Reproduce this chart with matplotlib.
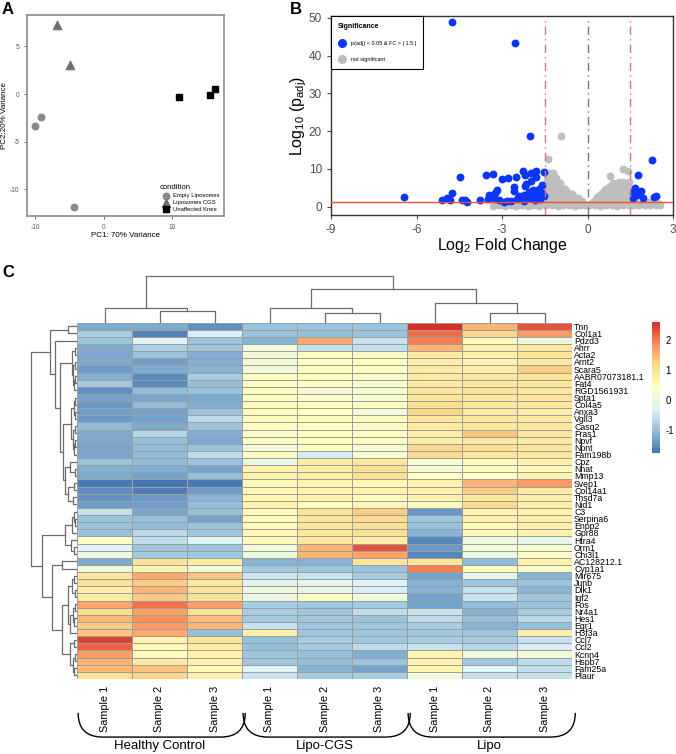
import numpy as np
import matplotlib
matplotlib.use("Agg")
import matplotlib.pyplot as plt
from matplotlib.colors import LinearSegmentedColormap
from matplotlib.lines import Line2D
from matplotlib.patches import PathPatch
from matplotlib.path import Path

plt.rcParams['font.family'] = ['Liberation Sans', 'DejaVu Sans']
plt.rcParams['mathtext.default'] = 'regular'
plt.rcParams['axes.unicode_minus'] = False

# ---------------- data: PCA (panel A) ----------------
empty_x = [-10.05, -9.1, -4.4]
empty_y = [-3.35, -2.4, -11.9]
cgs_x = [-6.75, -4.85]
cgs_y = [7.25, 3.1]
knee_x = [11.0, 15.5, 16.3]
knee_y = [-0.3, -0.1, 0.55]

# ---------------- data: volcano (panel B) ----------------
blue_x = [-4.75, -2.56, -2.01, -6.45, -4.47, -3.56, -3.30, -3.0, -2.79, -2.52,
          -2.27, -2.2, -1.97, -1.80, -1.54, -1.80, -1.97, -2.15, -2.59, -2.59,
          -3.18, -3.26, -3.46, -3.5, -3.29, -3.12, -2.94, -2.82, -3.76, -4.29,
          -4.24, -4.39, -4.74, -4.93, -4.81, -5.1, -2.39, -2.22, -2.06, -1.91,
          -1.71, -1.6, -1.58, -1.54, -1.65, -1.83, -2.03, -2.24, -2.47, -2.7,
          -1.87, -1.76, -2.18,
          2.25, 1.76, 1.65, 1.64, 1.88, 1.74, 1.58, 1.95, 2.32, 2.42, 1.58]
blue_y = [48.8, 43.4, 18.75, 2.5, 7.8, 8.4, 8.6, 7.4, 7.5, 7.9,
          9.4, 8.4, 8.9, 9.4, 9.3, 7.8, 6.7, 6.0, 5.3, 4.1,
          4.4, 3.7, 3.2, 2.05, 2.4, 1.9, 1.3, 1.5, 1.9, 1.9,
          1.25, 1.8, 3.5, 2.4, 1.7, 1.8, 2.8, 3.1, 3.8, 4.5,
          4.6, 5.7, 3.6, 2.8, 2.05, 1.9, 2.2, 1.5, 2.05, 1.5,
          3.2, 2.8, 5.4,
          12.3, 8.5, 5.0, 4.2, 4.2, 3.2, 2.4, 2.2, 2.5, 2.8, 3.7]

gray_x = [-1.45, -1.25, -1.05, -0.85, -0.65, -0.45, -0.25, -0.08,
          -1.35, -1.15, -0.95, -0.75, -0.55, -0.35, -0.15,
          -1.4, -1.2, -1.0, -0.8, -0.6, -0.4, -0.2,
          -1.35, -1.15, -0.95, -0.75, -0.55, -0.38,
          -1.45, -1.28, -1.1, -0.9, -0.7, -0.5, -0.32,
          -1.35, -1.18, -1.0, -0.82, -0.62,
          -1.42, -1.25, -1.08, -0.9, -0.72, -0.55,
          -1.38, -1.2, -1.02, -0.86,
          -1.45, -1.3, -1.12, -0.95, -0.8,
          -1.38, -1.2, -1.05,
          -1.42, -1.27, -1.1, -0.98,
          -1.35, -1.18,
          -1.4, -1.25, -1.12,
          -1.3, -1.2,
          0.05, 0.25, 0.45, 0.65, 0.85, 1.05, 1.25, 1.45,
          0.15, 0.35, 0.55, 0.75, 0.95, 1.15, 1.35, 1.5,
          0.2, 0.4, 0.6, 0.8, 1.0, 1.2, 1.4,
          0.3, 0.5, 0.7, 0.9, 1.1, 1.3, 1.48,
          0.35, 0.55, 0.75, 0.95, 1.15, 1.35,
          0.45, 0.65, 0.85, 1.05, 1.25, 1.45,
          0.5, 0.7, 0.9, 1.1, 1.3, 1.45,
          0.6, 0.8, 1.0, 1.2, 1.4,
          0.65, 0.85, 1.05, 1.25, 1.42,
          0.8, 1.0, 1.2, 1.38,
          0.9, 1.1, 1.25,
          -0.93, -1.39, 0.8, 1.25, 1.43, 1.45,
          -3.3, -3.1, -2.9, -2.7, -2.5, -2.3, -2.1, -1.9, -1.7,
          -3.2, -3.0, -2.8, -2.6, -2.4, -2.2, -2.0, -1.8, -1.6,
          -2.9, -2.5, -2.1, -1.75,
          1.6, 1.8, 2.0, 2.2, 2.4, 2.55,
          1.7, 1.9, 2.1, 2.3, 2.5,
          1.65, 1.9, 2.15, 2.4, 1.55]
gray_y = [0.4, 0.5, 0.3, 0.4, 0.5, 0.3, 0.4, 0.5,
          1.0, 1.1, 0.9, 1.0, 1.0, 0.9, 0.8,
          1.6, 1.7, 1.5, 1.6, 1.6, 1.5, 1.4,
          2.2, 2.3, 2.2, 2.1, 2.2, 2.0,
          2.9, 3.0, 2.8, 2.9, 3.0, 2.8, 2.4,
          3.6, 3.7, 3.5, 3.6, 3.4,
          4.2, 4.3, 4.1, 4.2, 4.0, 3.4,
          4.9, 5.0, 4.8, 4.6,
          5.5, 5.6, 5.4, 5.3, 4.8,
          6.1, 6.2, 6.0,
          6.8, 6.9, 6.7, 6.3,
          7.4, 7.5,
          8.0, 8.1, 7.6,
          9.0, 8.8,
          0.4, 0.5, 0.3, 0.4, 0.5, 0.3, 0.4, 0.5,
          1.0, 0.9, 1.1, 1.0, 0.9, 1.1, 1.0, 0.9,
          1.3, 1.6, 1.7, 1.5, 1.6, 1.7, 1.5,
          2.0, 2.2, 2.3, 2.2, 2.1, 2.3, 2.2,
          2.5, 2.8, 3.0, 2.9, 2.8, 3.0,
          3.1, 3.4, 3.5, 3.4, 3.5, 3.3,
          3.6, 4.0, 4.2, 4.1, 4.2, 4.0,
          4.3, 4.6, 4.7, 4.6, 4.5,
          4.8, 5.2, 5.6, 5.4, 5.2,
          5.6, 5.8, 5.9, 5.7,
          6.3, 6.6, 6.5,
          18.7, 12.5, 8.0, 9.9, 9.4, 6.5,
          0.3, 0.4, 0.3, 0.5, 0.3, 0.4, 0.3, 0.4, 0.3,
          0.7, 0.8, 0.7, 0.8, 0.7, 0.8, 0.7, 0.8, 0.7,
          1.0, 1.1, 1.0, 1.1,
          0.4, 0.5, 0.4, 0.5, 0.4, 0.5,
          0.8, 0.9, 0.8, 0.9, 0.8,
          1.2, 1.1, 1.2, 1.1, 2.0]

# ---------------- data: heatmap (panel C) ----------------
genes = ["Tnn", "Col1a1", "Pdzd3", "Ahrr", "Acta2", "Arnt2", "Scara5", "AABR07073181.1", "Fat4", "RGD1561931",
         "Spta1", "Col4a5", "Anxa3", "Vgll3", "Casq2", "Fras1", "Npvf", "Npnt", "Fam198b", "Cpz",
         "Nnat", "Mmp13", "Svep1", "Col14a1", "Thsd7a", "Nid1", "C3", "Serpina6", "Enpp2", "Gpr88",
         "Htra4", "Orm1", "Chi3l1", "AC128212.1", "Cyp1a1", "Mir675", "Junb", "Dlk1", "Igf2", "Fos",
         "Nr4a1", "Hes1", "Egr1", "H3f3a", "Ccl7", "Ccl2", "Kcnn4", "Hspb7", "Fam25a", "Plaur"]
samples = ["Sample 1", "Sample 2", "Sample 3"] * 3
groups = ["Healthy Control", "Lipo-CGS", "Lipo"]

zscores = [
    [-1.2, -1.2, -1.45, -0.95, -0.95, -0.95, 2.6, 1.55, 2.3],
    [-0.8, -1.6, -0.35, -0.95, -1.0, -0.95, 2.1, 1.25, 1.75],
    [-0.95, -0.25, -0.95, -1.1, 1.6, -0.5, 1.95, 0.5, 0.0],
    [-1.2, -0.75, -0.9, 0.1, -0.55, -0.55, 1.55, 0.8, 0.95],
    [-1.25, -0.95, -1.15, 0.1, 0.4, 0.35, 0.9, 0.75, 1.0],
    [-1.2, -1.35, -1.15, 0.15, 0.4, 0.4, 0.85, 0.75, 0.95],
    [-1.35, -1.2, -1.1, 0.15, 0.45, 0.35, 0.9, 0.8, 1.3],
    [-1.15, -1.5, -0.8, 0.4, 0.45, 0.3, 0.9, 0.95, 1.05],
    [-0.85, -1.5, -1.0, 0.4, 0.4, 0.3, 0.9, 1.0, 1.0],
    [-1.45, -1.05, -0.95, 0.4, 0.15, 0.2, 1.0, 1.1, 0.95],
    [-1.3, -1.25, -1.2, 0.45, 0.35, 0.25, 1.0, 0.95, 1.0],
    [-1.4, -1.05, -1.15, 0.45, 0.4, 0.35, 1.15, 0.95, 0.95],
    [-1.35, -1.3, -0.95, 0.5, 0.4, 0.15, 1.25, 0.9, 0.85],
    [-1.4, -1.3, -0.65, 0.45, 0.35, 0.35, 0.95, 0.95, 0.9],
    [-1.05, -1.2, -0.95, 0.4, 0.4, 0.35, 0.9, 0.95, 0.95],
    [-1.2, -0.7, -1.15, 0.3, 0.35, 0.4, 0.85, 1.4, 0.95],
    [-1.2, -1.0, -1.2, 0.35, 0.45, 0.4, 0.85, 0.95, 0.9],
    [-1.25, -1.05, -0.95, 0.2, 0.35, 0.25, 1.25, 1.15, 1.05],
    [-1.25, -1.05, -0.6, 0.35, -0.4, 0.2, 1.2, 0.95, 0.95],
    [-0.95, -1.05, -0.95, -0.05, 0.9, 0.95, 0.2, 0.45, 0.75],
    [-1.15, -1.15, -1.3, 0.7, 0.85, 1.1, 0.2, 0.5, 0.5],
    [-1.2, -1.3, -1.0, 0.7, 0.8, 1.1, 0.4, 0.4, 0.7],
    [-1.7, -1.75, -1.7, 0.55, 0.65, 0.6, 0.7, 1.55, 1.75],
    [-1.5, -1.65, -1.35, 0.6, 0.65, 0.7, 0.75, 1.3, 0.9],
    [-1.45, -1.4, -1.1, 0.65, 0.75, 0.5, 0.7, 1.0, 0.85],
    [-1.35, -1.35, -1.0, 0.7, 0.4, 0.55, 0.5, 1.2, 0.8],
    [-0.55, -1.25, -1.0, 0.5, 1.1, 1.3, -1.4, 0.7, 0.75],
    [-0.95, -1.0, -1.3, 0.5, 1.0, 1.2, -0.9, 0.75, 0.8],
    [-0.95, -1.05, -0.95, 0.55, 1.0, 1.15, -0.95, 0.55, 0.8],
    [-0.95, -0.65, -0.9, 0.6, 0.95, 1.1, -1.1, 0.55, 0.75],
    [0.35, -0.6, -0.3, 0.55, 0.95, 0.85, -1.55, 0.05, -0.1],
    [-0.3, -0.9, -0.95, 0.1, 1.55, 2.3, -1.4, 0.1, 0.25],
    [0.05, -0.85, -0.9, 0.05, 1.55, 1.65, -1.55, 0.0, 0.35],
    [-1.2, 1.05, 0.9, -1.1, -1.1, 1.0, 1.0, -1.05, 0.75],
    [0.1, 0.65, 0.15, -0.85, -0.9, -0.95, 1.95, 0.45, 0.35],
    [1.05, 1.6, 1.4, -0.45, -0.5, -0.8, -1.3, -0.1, -1.1],
    [1.1, 1.3, 0.95, -0.2, -0.1, -0.3, -1.1, -0.9, -0.95],
    [0.85, 1.55, 1.05, 0.05, -0.1, -0.4, -1.1, -0.55, -1.1],
    [0.9, 1.35, 1.1, 0.0, 0.3, 0.05, -1.3, -0.5, -0.9],
    [1.65, 2.05, 1.7, -0.8, -0.9, -0.85, -1.3, -1.05, -0.95],
    [1.2, 1.7, 1.1, -0.8, -0.9, -0.6, -0.5, -1.1, -0.85],
    [1.5, 1.85, 1.45, -0.85, -0.9, -0.95, -0.6, -1.0, -0.7],
    [1.3, 1.75, 1.5, -0.5, -0.9, -0.9, -0.8, -1.1, -1.0],
    [1.35, 1.6, -1.0, 0.75, -0.9, -0.9, -0.9, -0.9, 0.75],
    [2.45, 0.7, 1.0, -1.0, -0.8, -0.9, -0.8, -0.85, -0.5],
    [2.2, 0.55, 0.9, -1.0, -0.85, -0.6, -0.5, -0.7, -0.35],
    [1.7, 0.45, 0.7, -0.9, -1.0, -1.15, 0.65, 0.05, 0.1],
    [1.55, 0.9, 0.75, -0.9, -1.0, -0.95, 0.7, -0.9, -0.6],
    [1.5, 1.4, 0.55, -0.25, -1.1, -1.3, 0.65, -0.25, -0.55],
    [1.15, 1.25, 0.8, -0.5, -0.85, -0.8, 0.05, -0.55, -0.55],
]

# clustering trees: (left, right, merge height); leaves are row / column indices
col_tree = ((0, (1, 2, 12.1), 14.4), ((3, (4, 5, 10.1), 15.1), (6, (7, 8, 10.1), 20.1), 33.9), 47)

d1 = ((3, 4, 2), ((5, 6, 2), ((7, 8, 2.5), 9, 3.5), 4.5), 5.5)
d2 = (((10, 11, 2), (12, 13, 2.5), 3.5), ((14, 15, 2), ((16, 17, 2), 18, 3), 4), 6)
e1 = (19, (20, 21, 2.5), 7)
e2 = ((22, 23, 3), (24, 25, 4), 9)
top_cl = ((0, 1, 9), (2, (d1, (d2, (e1, e2, 12), 14), 17), 22), 27)
f_cl = (((26, (27, 28, 2), 3.5), 29, 5), (30, (31, 32, 3), 6), 12)
h1 = (((35, 36, 3), (37, 38, 2.5), 5), (((39, 40, 2.5), (41, 42, 3), 4.5), 43, 7), 9)
h2 = ((44, 45, 3), ((46, 47, 2.5), (48, 49, 3), 4.5), 7)
bot_cl = (f_cl, ((33, 34, 15), (h1, h2, 15), 25.5), 35.5)
row_tree = (top_cl, bot_cl, 46)

# ---------------- figure ----------------
W, H = 676, 754
fig = plt.figure(figsize=(W / 100, H / 100), dpi=100)


def box(l, t, r, b):
    return [l / W, 1 - b / H, (r - l) / W, (b - t) / H]


# ---- panel A ----
axA = fig.add_axes(box(27, 15, 224, 216))
axA.scatter(empty_x, empty_y, s=22, marker='o', color='#8a8a8a', label='Empty Liposomes')
axA.scatter(cgs_x, cgs_y, s=34, marker='^', color='#6e6e6e', label='Liposomes CGS')
axA.scatter(knee_x, knee_y, s=22, marker='s', color='black', label='Unaffected Knee')
axA.set_xlim(-11.2, 17.6)
axA.set_ylim(-12.8, 8.3)
axA.set_xticks([-10, 0, 10])
axA.set_yticks([-10, -5, 0, 5])
axA.tick_params(labelsize=4.8, colors='#555555', length=2, width=0.6)
for s in axA.spines.values():
    s.set_color('#8c8c8c')
    s.set_linewidth(1.2)
axA.set_xlabel('PC1: 70% Variance', fontsize=5.8, labelpad=1)
axA.set_ylabel('PC2:20% Variance', fontsize=5.8, labelpad=1)
legA = axA.legend(title='condition', loc='lower right', fontsize=4.2, title_fontsize=5.5,
                  frameon=False, handletextpad=0.3, labelspacing=0.3, borderaxespad=0.3)
legA._legend_box.align = 'left'

# ---- panel B ----
axB = fig.add_axes(box(331, 16, 673, 215))
axB.scatter(gray_x, gray_y, s=32, color='#bebebe', linewidths=0, zorder=2)
axB.scatter(blue_x, blue_y, s=32, color='#0b35f7', linewidths=0, zorder=3)
axB.axvline(-1.5, color='#c97c7c', lw=1.0, ls=(0, (6, 3, 1, 3)), zorder=4)
axB.axvline(1.5, color='#c97c7c', lw=1.0, ls=(0, (6, 3, 1, 3)), zorder=4)
axB.axvline(0, color='#777777', lw=1.0, ls=(0, (6, 3, 1, 3)), zorder=4)
axB.axhline(1.3, color='#f0502f', lw=1.0, zorder=5)
axB.set_xlim(-9, 3)
axB.set_ylim(-2.2, 50.5)
axB.set_xticks([-9, -6, -3, 0, 3])
axB.set_yticks([0, 10, 20, 30, 40, 50])
axB.tick_params(labelsize=8.5, colors='#4d4d4d', length=3, width=0.8)
for s in axB.spines.values():
    s.set_color('#333333')
    s.set_linewidth(1.0)
axB.set_xlabel('Log$_2$ Fold Change', fontsize=11.5, labelpad=0)
axB.set_ylabel('Log$_{10}$ (p$_{adj}$)', fontsize=11.5, labelpad=0)
handles = [Line2D([], [], marker='o', ls='', color='#0b35f7', markersize=5.5),
           Line2D([], [], marker='o', ls='', color='#bebebe', markersize=5.5)]
legB = axB.legend(handles, ['p(adj) < 0.05 & FC > | 1.5 |', 'not significant'], title='Significance',
                  loc='upper left', fontsize=4.0, title_fontsize=5.0, fancybox=False,
                  edgecolor='black', framealpha=1, borderaxespad=0, borderpad=1.2,
                  labelspacing=2.0, handletextpad=0.8, handlelength=1.6)
legB.get_frame().set_linewidth(0.8)
legB.get_title().set_fontweight('bold')
legB._legend_box.align = 'left'

# ---- panel C: heatmap ----
vals = np.array(zscores)
rdylbu = ['#4575B4', '#91BFDB', '#E0F3F8', '#FFFFBF', '#FEE090', '#FC8D59', '#D73027']
cmap = LinearSegmentedColormap.from_list('pheat', rdylbu, N=100)

axH = fig.add_axes(box(77, 322.7, 572, 679))
mesh = axH.pcolormesh(np.arange(vals.shape[1] + 1), np.arange(vals.shape[0] + 1), vals,
                      cmap=cmap, vmin=vals.min(), vmax=vals.max(),
                      edgecolors='#9e9e9e', linewidth=0.6)
axH.set_xlim(0, vals.shape[1])
axH.set_ylim(vals.shape[0], 0)
for s in axH.spines.values():
    s.set_visible(False)
axH.yaxis.tick_right()
axH.set_yticks(np.arange(len(genes)) + 0.5)
axH.set_yticklabels(genes, fontsize=6.3)
axH.set_xticks(np.arange(len(samples)) + 0.5)
axH.set_xticklabels(samples, rotation=90, fontsize=7.8)
axH.tick_params(axis='y', length=0, pad=1.5)
axH.tick_params(axis='x', length=0, pad=5)

# braces and group names under the samples
btrans = axH.get_xaxis_transform()
y_top, y_bot = -0.095, -0.163
for g, name in enumerate(groups):
    x0 = 3 * g + 0.02
    x1 = 3 * g + 3.06
    r = 0.45
    verts = [(x0, y_top), (x0, y_bot), (x0 + r, y_bot), (x1 - r, y_bot),
             (x1, y_bot), (x1, y_top)]
    codes = [Path.MOVETO, Path.CURVE3, Path.CURVE3, Path.LINETO, Path.CURVE3, Path.CURVE3]
    axH.add_patch(PathPatch(Path(verts, codes), transform=btrans, fill=False,
                            lw=1.0, color='black', clip_on=False))
    axH.text(3 * g + 1.5, -0.187, name, transform=btrans, ha='center', va='center', fontsize=9.5)


def draw_tree(ax, node, rows):
    if isinstance(node, int):
        return node + 0.5, 0.0
    a, b, h = node
    pa, ha = draw_tree(ax, a, rows)
    pb, hb = draw_tree(ax, b, rows)
    if rows:
        ax.plot([ha, h, h, hb], [pa, pa, pb, pb], color='#6b6b6b', lw=0.9)
    else:
        ax.plot([pa, pa, pb, pb], [ha, h, h, hb], color='#6b6b6b', lw=0.9)
    return (pa + pb) / 2, h


axR = fig.add_axes(box(30, 322.7, 77, 679))
draw_tree(axR, row_tree, True)
axR.set_xlim(47, 0)
axR.set_ylim(vals.shape[0], 0)
axR.axis('off')

axT = fig.add_axes(box(77, 275, 572, 322.7))
draw_tree(axT, col_tree, False)
axT.set_xlim(0, vals.shape[1])
axT.set_ylim(0, 47.7)
axT.axis('off')

cax = fig.add_axes(box(652, 322, 660, 453))
cb = fig.colorbar(mesh, cax=cax, ticks=[-1, 0, 1, 2])
cb.outline.set_visible(False)
cax.tick_params(length=0, labelsize=7, pad=4)

# panel letters
fig.text(2 / W, 1 - 9 / H, 'A', fontsize=12, fontweight='bold', va='center')
fig.text(290 / W, 1 - 9 / H, 'B', fontsize=12, fontweight='bold', va='center')
fig.text(2 / W, 1 - 273 / H, 'C', fontsize=12, fontweight='bold', va='center')

fig.savefig('out.png', dpi=100)
